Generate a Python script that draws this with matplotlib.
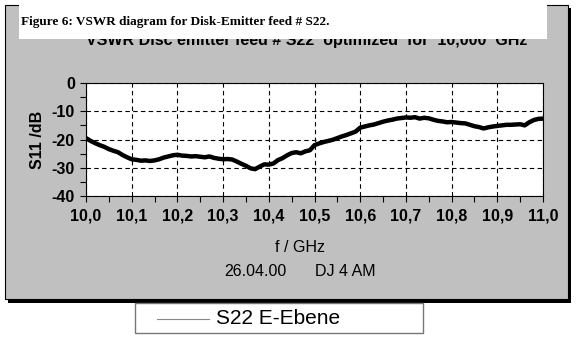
import numpy as np
import matplotlib
matplotlib.use("Agg")
from matplotlib import pyplot as plt
from matplotlib.patches import Rectangle
from matplotlib.ticker import MultipleLocator, FuncFormatter

# frequency (GHz) and S11 (dB)
freq = [10.00, 10.01, 10.02, 10.03, 10.04, 10.05, 10.06, 10.07, 10.08, 10.09,
        10.10, 10.11, 10.12, 10.13, 10.14, 10.15, 10.16, 10.17, 10.18, 10.19,
        10.20, 10.21, 10.22, 10.23, 10.24, 10.25, 10.26, 10.27, 10.28, 10.29,
        10.30, 10.31, 10.32, 10.33, 10.34, 10.35, 10.36, 10.37, 10.38, 10.39,
        10.40, 10.41, 10.42, 10.43, 10.44, 10.45, 10.46, 10.47, 10.48, 10.49,
        10.50, 10.51, 10.52, 10.53, 10.54, 10.55, 10.56, 10.57, 10.58, 10.59,
        10.60, 10.61, 10.62, 10.63, 10.64, 10.65, 10.66, 10.67, 10.68, 10.69,
        10.70, 10.71, 10.72, 10.73, 10.74, 10.75, 10.76, 10.77, 10.78, 10.79,
        10.80, 10.81, 10.82, 10.83, 10.84, 10.85, 10.86, 10.87, 10.88, 10.89,
        10.90, 10.91, 10.92, 10.93, 10.94, 10.95, 10.96, 10.97, 10.98, 10.99,
        11.00]
s22 = [-19.5, -20.5, -21.3, -22.0, -22.6, -23.4, -24.0, -24.5, -25.5, -26.3,
       -27.0, -27.2, -27.5, -27.4, -27.6, -27.4, -27.0, -26.4, -26.0, -25.6,
       -25.4, -25.7, -25.8, -26.0, -25.9, -26.1, -26.3, -26.0, -26.5, -26.8,
       -27.0, -26.9, -27.1, -27.8, -28.6, -29.3, -30.2, -30.5, -29.6, -28.8,
       -28.9, -28.5, -27.3, -26.6, -25.6, -24.8, -24.5, -24.9, -24.2, -23.8,
       -22.0, -21.4, -20.9, -20.5, -20.1, -19.5, -18.9, -18.4, -17.8, -17.2,
       -15.8, -15.4, -15.0, -14.7, -14.2, -13.7, -13.3, -13.0, -12.6, -12.4,
       -12.2, -12.3, -12.1, -12.6, -12.3, -12.5, -13.0, -13.4, -13.6, -13.9,
       -13.8, -14.0, -14.2, -14.3, -14.8, -15.3, -15.6, -16.1, -15.7, -15.4,
       -15.2, -15.0, -14.8, -14.8, -14.7, -14.6, -15.0, -13.9, -13.1, -12.7,
       -12.6]

W, H = 576, 350


def fx(px):
    return px / W


def fy(py):
    return 1 - py / H


fig = plt.figure(figsize=(W / 100, H / 100), dpi=100, facecolor='white')

# grey chart panel with black shadow
fig.add_artist(Rectangle((fx(8), fy(303)), fx(571) - fx(8), fy(8) - fy(303),
                         facecolor='black', edgecolor='none', zorder=0))
fig.add_artist(Rectangle((fx(5), fy(299)), fx(568) - fx(5), fy(5) - fy(299),
                         facecolor='#c0c0c0', edgecolor='black', lw=0.8, zorder=0.5))

# chart title, partly hidden by the caption box
fig.text(fx(307), fy(45), 'VSWR Disc emitter feed # S22  optimized  for  10,000  GHz',
         ha='center', va='baseline', fontsize=11.5, fontweight='bold',
         family='Liberation Sans', zorder=4)
fig.add_artist(Rectangle((fx(19), fy(39)), fx(547) - fx(19), fy(0) - fy(39),
                         facecolor='white', edgecolor='none', zorder=5))
fig.text(fx(21), fy(25), 'Figure 6: VSWR diagram for Disk-Emitter feed # S22.',
         ha='left', va='baseline', fontsize=9.5, fontweight='bold',
         family='Liberation Serif', zorder=6)

ax = fig.add_axes([fx(86), fy(196), fx(543) - fx(86), fy(83) - fy(196)])
ax.set_zorder(2)
ax.set_facecolor('white')
ax.plot(freq, s22, color='black', lw=3.2, solid_capstyle='butt')

ax.set_xlim(10.0, 11.0)
ax.set_ylim(-40, 0)
ax.xaxis.set_major_locator(MultipleLocator(0.1))
ax.xaxis.set_minor_locator(MultipleLocator(0.05))
ax.yaxis.set_major_locator(MultipleLocator(10))
ax.yaxis.set_minor_locator(MultipleLocator(5))
ax.xaxis.set_major_formatter(FuncFormatter(lambda v, p: f'{v:.1f}'.replace('.', ',')))
ax.yaxis.set_major_formatter(FuncFormatter(lambda v, p: f'{v:.0f}'))
ax.tick_params(which='both', direction='out', length=4, width=0.8, color='black')
ax.tick_params(axis='x', pad=5)
ax.tick_params(axis='y', pad=4)
for lab in ax.get_xticklabels() + ax.get_yticklabels():
    lab.set_family('Liberation Sans')
    lab.set_fontsize(11.5)
    lab.set_fontweight('bold')
ax.grid(True, which='major', color='black', ls=(0, (4, 3)), lw=0.8)
for sp in ax.spines.values():
    sp.set_linewidth(0.8)

ax.set_ylabel('S11 /dB', family='Liberation Sans', fontsize=11.5,
              fontweight='bold', labelpad=5)

fig.text(fx(300), fy(248), 'f / GHz', ha='center', va='center',
         family='Liberation Sans', fontsize=11.5)
fig.text(fx(255), fy(271), '26.04.00', ha='center', va='center',
         family='Liberation Sans', fontsize=11.5)
fig.text(fx(345), fy(271), 'DJ 4 AM', ha='center', va='center',
         family='Liberation Sans', fontsize=11.5)

# legend box below the panel
fig.add_artist(Rectangle((fx(135), fy(333)), fx(423) - fx(135), fy(303) - fy(333),
                         facecolor='white', edgecolor='#777777', lw=1.0, zorder=1))
fig.add_artist(plt.Line2D([fx(157), fx(209)], [fy(319), fy(319)],
                          color='#888888', lw=0.8, zorder=2))
fig.text(fx(216), fy(319), 'S22 E-Ebene', ha='left', va='center',
         family='Liberation Sans', fontsize=15, zorder=2)

fig.savefig('out.png', dpi=100)
